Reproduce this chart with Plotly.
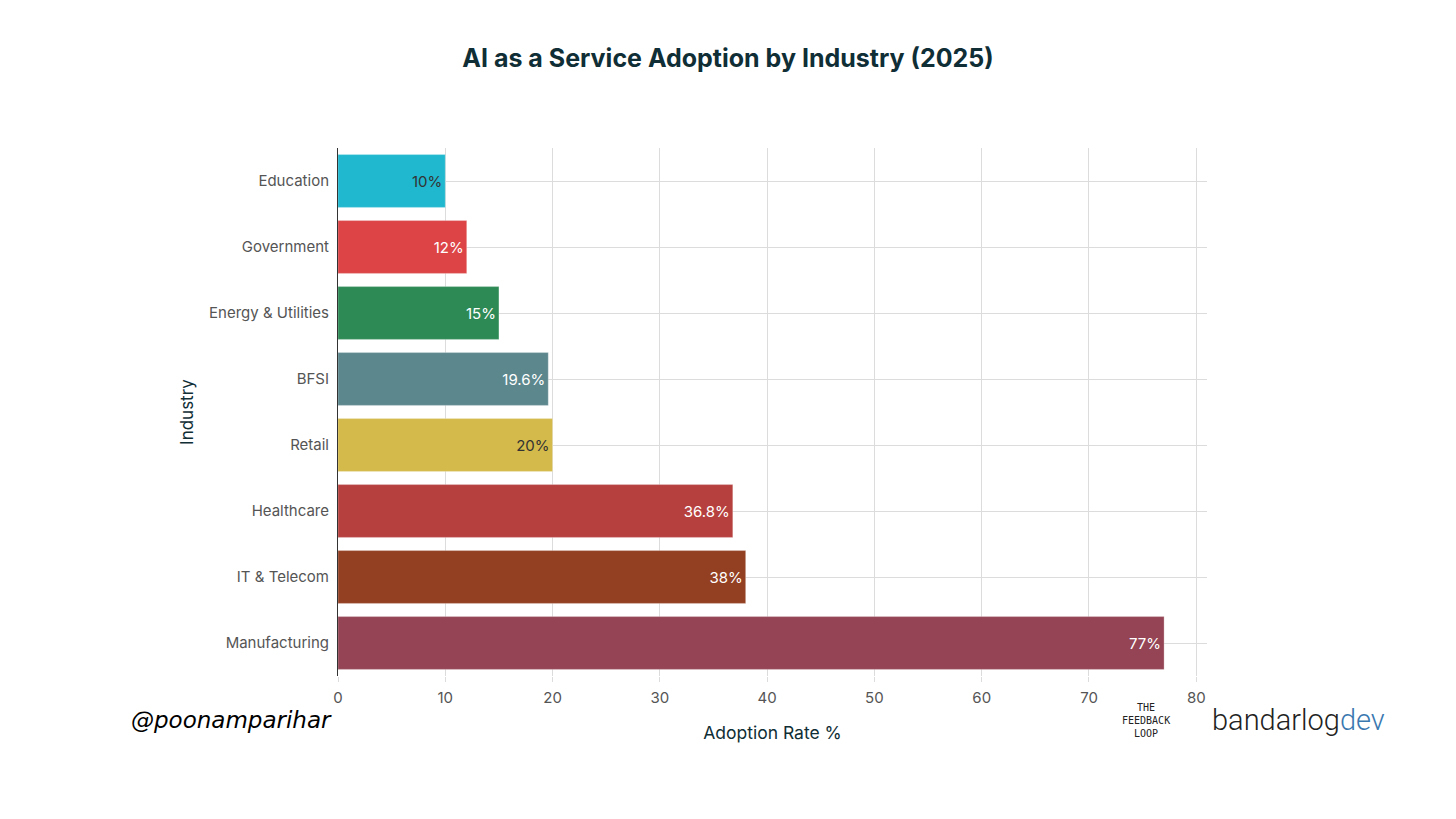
import plotly.graph_objects as go

industries = ["Education", "Government", "Energy & Utilities", "BFSI", "Retail",
              "Healthcare", "IT & Telecom", "Manufacturing"]
adoption = [10, 12, 15, 19.6, 20, 36.8, 38, 77]
labels = ["10%", "12%", "15%", "19.6%", "20%", "36.8%", "38%", "77%"]
colors = ["#20B8CE", "#DC4446", "#2D8A55", "#5C878D", "#D4BA4A",
          "#B6403E", "#933F22", "#944454"]
label_colors = ["#333333", "white", "white", "white", "#333333", "white", "white", "white"]
x_ticks = [0, 10, 20, 30, 40, 50, 60, 70, 80]

fig = go.Figure(go.Bar(
    x=adoption, y=industries, orientation="h",
    marker=dict(color=colors, line=dict(width=0.8, color="rgba(255,255,255,0.35)")),
    text=labels, textposition="inside", insidetextanchor="end",
    textfont=dict(color=label_colors, size=15, family="Inter"),
    width=0.8,
))

fig.update_layout(
    width=1440, height=803,
    paper_bgcolor="white", plot_bgcolor="white",
    margin=dict(l=330, r=241, t=140, b=135),
    font=dict(family="Inter", color="#555555", size=15),
    title=dict(text="<b>AI as a Service Adoption by Industry (2025)</b>",
               x=0.5, xanchor="center", y=0.938, yanchor="middle",
               font=dict(size=25, color="#0F2E35", family="Inter")),
    showlegend=False,
)
fig.update_xaxes(range=[0, 81], tickvals=x_ticks, showgrid=True,
                 gridcolor="#DCDCDC", gridwidth=1, zeroline=False,
                 ticks="outside", ticklen=5, tickcolor="#DCDCDC",
                 ticklabelstandoff=3,
                 tickfont=dict(size=15, color="#555555"),
                 title=dict(text="Adoption Rate %", standoff=20,
                            font=dict(size=17.5, color="#0F2E35")))
fig.update_yaxes(categoryorder="array", categoryarray=industries,
                 autorange="reversed", showgrid=True,
                 gridcolor="#DCDCDC", gridwidth=1, showline=True,
                 linecolor="#333333", linewidth=1,
                 ticks="outside", ticklen=5, tickcolor="rgba(0,0,0,0)",
                 tickfont=dict(size=15, color="#555555"),
                 title=dict(text="Industry", standoff=11,
                            font=dict(size=17, color="#0F2E35")))

fig.add_annotation(text="<i>@poonamparihar</i>", xref="paper", yref="paper",
                   x=-0.24, y=-0.083, xanchor="left", yanchor="middle",
                   showarrow=False,
                   font=dict(family="DejaVu Sans", size=23, color="black"))
fig.add_annotation(text="THE<br>FEEDBACK<br>LOOP", xref="paper", yref="paper",
                   x=0.93, y=-0.045, xanchor="center", yanchor="top",
                   showarrow=False, align="center",
                   font=dict(family="DejaVu Sans Mono", size=10, color="#222222"))
fig.add_annotation(text="bandarlog<span style='color:#3A78B0'>dev</span>",
                   xref="paper", yref="paper",
                   x=1.003, y=-0.083, xanchor="left", yanchor="middle",
                   showarrow=False,
                   font=dict(family="Roboto", size=29, weight=300, color="#222222"))

fig.write_html("out.html")
